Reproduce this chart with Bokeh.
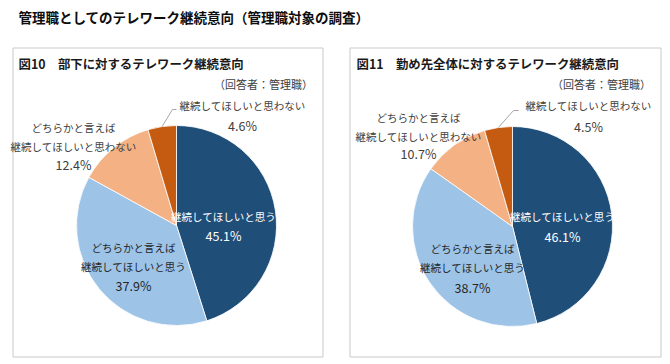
import math
from bokeh.plotting import figure
from bokeh.models import Range1d
from bokeh.core.properties import value
from bokeh.embed import file_html
from bokeh.resources import INLINE

# ---------------- data ----------------
main_title = "管理職としてのテレワーク継続意向（管理職対象の調査）"
panel_titles = ["図10　部下に対するテレワーク継続意向", "図11　勤め先全体に対するテレワーク継続意向"]
respondent_note = "（回答者：管理職）"
categories = [
    ["継続してほしいと思う"],
    ["どちらかと言えば", "継続してほしいと思う"],
    ["どちらかと言えば", "継続してほしいと思わない"],
    ["継続してほしいと思わない"],
]
values_fig10 = [45.1, 37.9, 12.4, 4.6]
values_fig11 = [46.1, 38.7, 10.7, 4.5]
colors = ["#1F4E79", "#9DC3E6", "#F4B183", "#C55A11"]

FONT = value("Noto Sans CJK JP")
H = 364


def Y(py):
    return H - py


p = figure(width=670, height=364, x_range=Range1d(0, 670), y_range=Range1d(0, 364),
           output_backend="svg", toolbar_location=None, min_border=0)
p.axis.visible = False
p.grid.visible = False
p.outline_line_color = None
p.background_fill_color = "white"
p.border_fill_color = "white"

# main title
p.text(x=[18], y=[Y(16)], text=[main_title], text_font=FONT, text_font_size="13.5px",
       text_font_style="bold", text_color="#0d0d0d", text_baseline="middle", text_align="left")

# panel layout
panels = [
    dict(l=12.5, r=322.5, t=47.5, b=356.5, cx=176, cy=225, rad=100, vals=values_fig10,
         title_x=18,
         lab=[  # per category: (x, [y per line], color)
             (223, [216, 235], "white"),
             (133, [247, 266, 285], "#262626"),
             (73, [127, 146, 164], "#404040"),
             (242, [105, 125], "#404040"),
         ],
         lead_end=(172, 109), lead_end2=(176, 109)),
    dict(l=349.5, r=660.5, t=47.5, b=356.5, cx=512, cy=226, rad=100, vals=values_fig11,
         title_x=356,
         lab=[
             (562, [216, 236], "white"),
             (472, [248, 267, 287], "#262626"),
             (418, [117, 136, 153], "#404040"),
             (588, [105, 126], "#404040"),
         ],
         lead_end=(513, 110), lead_end2=(518, 110)),
]

for i, pn in enumerate(panels):
    # panel frame
    p.quad(left=[pn["l"]], right=[pn["r"]], top=[Y(pn["t"])], bottom=[Y(pn["b"])],
           fill_color="white", line_color="#C9C9C9", line_width=1)
    # panel title
    p.text(x=[pn["title_x"]], y=[Y(63)], text=[panel_titles[i]], text_font=FONT,
           text_font_size="12.4px", text_font_style="bold", text_color="#1a1a1a",
           text_baseline="middle", text_align="left")
    p.text(x=[pn["r"] - 10], y=[Y(83)], text=[respondent_note], text_font=FONT,
           text_font_size="11px", text_color="#404040", text_baseline="middle", text_align="right")

    vals = pn["vals"]
    total = sum(vals)
    cum = 0.0
    starts, ends = [], []
    for v in vals:
        starts.append(math.pi / 2 - 2 * math.pi * cum / total)
        cum += v
        ends.append(math.pi / 2 - 2 * math.pi * cum / total)
    p.wedge(x=pn["cx"], y=Y(pn["cy"]), radius=pn["rad"], start_angle=starts, end_angle=ends,
            direction="clock", fill_color=colors, line_color="white", line_width=0.8)

    # leader line for the smallest slice
    mid = (starts[3] + ends[3]) / 2
    sx = pn["cx"] + pn["rad"] * math.cos(mid)
    sy = Y(pn["cy"]) + pn["rad"] * math.sin(mid)
    ex, ey = pn["lead_end"]
    ex2, ey2 = pn["lead_end2"]
    p.line(x=[sx, ex, ex2], y=[sy, Y(ey), Y(ey2)], line_color="#A6A6A6", line_width=1)

    # labels
    for k, (lx, lys, col) in enumerate(pn["lab"]):
        lines = categories[k]
        for line_text, ly in zip(lines, lys):
            p.text(x=[lx], y=[Y(ly)], text=[line_text], text_font=FONT, text_font_size="10.5px",
                   text_color=col, text_baseline="middle", text_align="center")
        p.text(x=[lx], y=[Y(lys[-1])], text=[f"{vals[k]:.1f}%"], text_font=FONT,
               text_font_size="12.5px", text_color=col, text_baseline="middle", text_align="center")

open("out.html", "w").write(file_html(p, INLINE))
